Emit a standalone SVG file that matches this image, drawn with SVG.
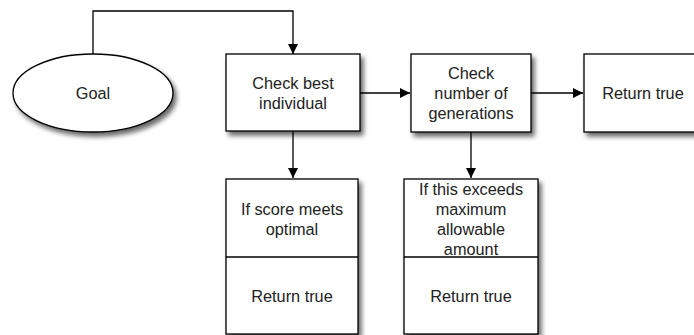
<svg xmlns="http://www.w3.org/2000/svg" width="694" height="335" viewBox="0 0 694 335">
  <style>
    .shape { fill: #ffffff; stroke: #000000; stroke-width: 1.3; filter: url(#shadow); }
    .div { stroke: #000000; stroke-width: 1.3; fill: none; }
    .label { font-family: "Liberation Sans", Arial, sans-serif; font-size: 16.3px; fill: #222222; text-anchor: middle; }
    .edge { stroke: #000000; stroke-width: 1.3; fill: none; marker-end: url(#arrow); }
  </style>
  <defs>
    <filter id="shadow" x="-20%" y="-20%" width="150%" height="150%">
      <feGaussianBlur in="SourceAlpha" stdDeviation="2.5"/>
      <feOffset dx="3" dy="4" result="blur"/>
      <feComponentTransfer><feFuncA type="linear" slope="0.6"/></feComponentTransfer>
      <feMerge><feMergeNode/><feMergeNode in="SourceGraphic"/></feMerge>
    </filter>
    <marker id="arrow" viewBox="0 0 10 10" refX="10" refY="5" markerWidth="10" markerHeight="10" markerUnits="userSpaceOnUse" orient="auto">
      <path d="M0,0 L10,5 L0,10 Z" fill="#000000"/>
    </marker>
  </defs>

  <rect width="694" height="335" fill="#ffffff"/>

  <g id="connectors">
    <path class="edge" d="M93,54 V11 H293 V54"/>
    <path class="edge" d="M360,93 H410"/>
    <path class="edge" d="M531,93 H583"/>
    <path class="edge" d="M293,131 V178"/>
    <path class="edge" d="M471,132 V178"/>
  </g>

  <g id="goal">
    <ellipse class="shape" cx="93" cy="93" rx="80" ry="39"/>
    <text class="label" x="93" y="99">Goal</text>
  </g>

  <g id="check-best">
    <rect class="shape" x="226" y="54" width="134" height="77"/>
    <text class="label" x="293" y="89">Check best</text>
    <text class="label" x="293" y="109">individual</text>
  </g>

  <g id="check-generations">
    <rect class="shape" x="411" y="54" width="120" height="78"/>
    <text class="label" x="471" y="79">Check</text>
    <text class="label" x="471" y="99">number of</text>
    <text class="label" x="471" y="119">generations</text>
  </g>

  <g id="return-true-right">
    <rect class="shape" x="584" y="54" width="130" height="78"/>
    <text class="label" x="643" y="99">Return true</text>
  </g>

  <g id="score-check">
    <rect class="shape" x="226" y="179" width="132" height="155"/>
    <line class="div" x1="226" y1="257" x2="358" y2="257"/>
    <text class="label" x="292" y="215">If score meets</text>
    <text class="label" x="292" y="235">optimal</text>
    <text class="label" x="292" y="302">Return true</text>
  </g>

  <g id="generation-limit">
    <rect class="shape" x="404" y="179" width="134" height="155"/>
    <line class="div" x1="404" y1="257" x2="538" y2="257"/>
    <text class="label" x="471" y="195">If this exceeds</text>
    <text class="label" x="471" y="215">maximum</text>
    <text class="label" x="471" y="235">allowable</text>
    <text class="label" x="471" y="255">amount</text>
    <text class="label" x="471" y="302">Return true</text>
  </g>
</svg>
